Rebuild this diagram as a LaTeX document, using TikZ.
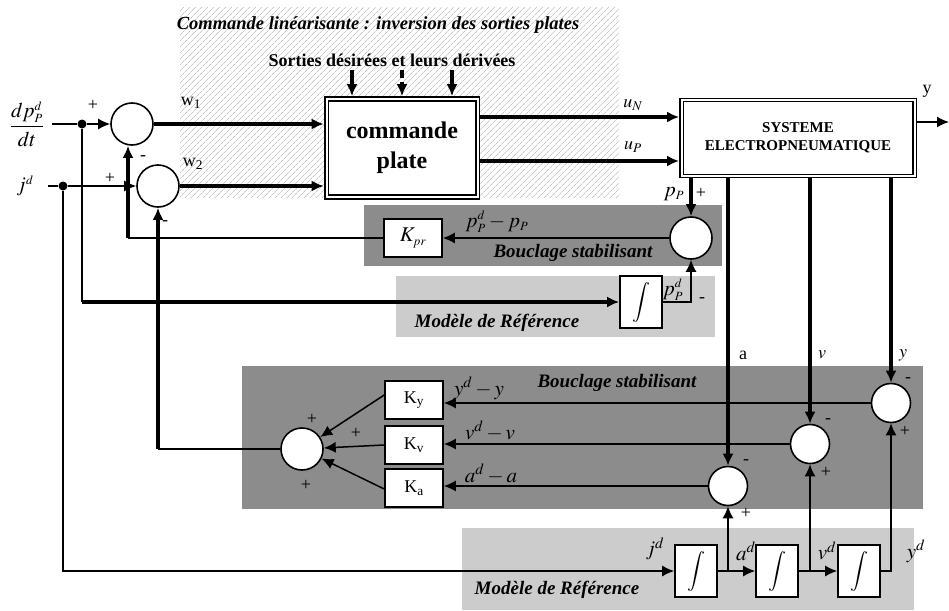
\documentclass[tikz,border=0pt]{standalone}
\usepackage{mathptmx}
\usepackage{fontspec}
\setmainfont{Liberation Serif}
\usetikzlibrary{arrows.meta,patterns.meta}

\begin{document}
\begin{tikzpicture}[x=1pt,y=-1pt,
  every node/.style={font=\fontsize{18}{20}\selectfont},
  fine/.style={line width=1.5pt},
  heavy/.style={line width=3.2pt},
  dsh/.style={dash pattern=on 8pt off 4pt},
  arr/.style={-{Latex[length=12pt,width=11pt]}},
  sum/.style={circle,draw,fill=white,line width=1.6pt,minimum size=42pt,inner sep=0pt},
  cmp/.style={sum,minimum size=39pt},
  gain/.style={rectangle,draw,fill=white,line width=1.6pt,minimum width=58pt,minimum height=38pt,inner sep=0pt},
  integ/.style={gain,minimum width=42pt,minimum height=52pt,font=\fontsize{20}{22}\selectfont},
  dot/.style={circle,fill=black,minimum size=9pt,inner sep=0pt},
  zonetitle/.style={font=\fontsize{19}{21}\selectfont\bfseries\itshape},
  sgn/.style={font=\fontsize{18}{18}\selectfont,inner sep=0pt},
  lbl/.style={font=\fontsize{21}{22}\selectfont,inner sep=0pt}]
\useasboundingbox (0,0) rectangle (949,610);
%zones
\fill[pattern={Lines[angle=45,distance=4pt,line width=0.8pt]},pattern color=black!22] (180,8) rectangle (619,197);
\fill[black!45] (364,205) rectangle (722,266);
\fill[black!20] (396,276) rectangle (715,337);
\fill[black!45] (242,366) rectangle (923,509);
\fill[black!20] (462,528) rectangle (914,610);
%zone texts
\node[zonetitle,font=\fontsize{18.5}{20}\selectfont\bfseries\itshape] (ttl) at (378,25) {Commande linéarisante : inversion des sorties plates};
\node[font=\fontsize{18}{20}\selectfont\bfseries] (sdd) at (392,60) {Sorties désirées et leurs dérivées};
\node[zonetitle] (bs1) at (573,253) {Bouclage stabilisant};
\node[zonetitle] (mr1) at (497,323) {Modèle de Référence};
\node[zonetitle] (bs2) at (617,383) {Bouclage stabilisant};
\node[zonetitle] (mr2) at (557,590) {Modèle de Référence};
%blocks
\node[draw,fill=white,line width=1.8pt,double,double distance=2pt,outer sep=2.8pt,minimum width=151pt,minimum height=98pt,align=center,font=\fontsize{24}{30}\selectfont\bfseries] (cp) at (402,148) {commande\\plate};
\node[draw,fill=white,line width=1.4pt,double,double distance=2pt,outer sep=2.4pt,minimum width=233pt,minimum height=76pt,align=center,font=\fontsize{15}{18}\selectfont\bfseries] (sys) at (798,138) {SYSTEME\\ELECTROPNEUMATIQUE};
\node[sum] (s1) at (132,124) {};
\node[sum] (s2) at (158,186) {};
\node[sum] (spp) at (691,238) {};
\node[sum] (sk) at (302,449) {};
\node[cmp] (sy) at (891,403) {};
\node[cmp] (sv) at (810,444) {};
\node[cmp] (sa) at (728,486) {};
\node[gain,font=\fontsize{21}{22}\selectfont] (kpr) at (413,238) {$K_{\scriptscriptstyle pr}$};
\node[gain] (ky) at (414,400) {K\textsubscript{y}};
\node[gain] (kv) at (414,445) {K\textsubscript{v}};
\node[gain] (ka) at (414,488) {K\textsubscript{a}};
\node[integ] (ipp) at (641,302) {$\displaystyle\int$};
\node[integ] (i1) at (696,571) {$\displaystyle\int$};
\node[integ] (i2) at (777,571) {$\displaystyle\int$};
\node[integ] (i3) at (859,571) {$\displaystyle\int$};
%inputs
\node[font=\fontsize{21}{24}\selectfont] (ldp) at (27,124) {$\displaystyle\frac{dp_{\scriptscriptstyle P}^{\scriptscriptstyle d}}{dt}$};
\node[lbl] (ljd) at (25,186) {$j^{\scriptscriptstyle d}$};
\coordinate (dpin) at (52,124);
\coordinate (jin) at (48,186);
\node[dot] (n1) at (82,124) {};
\node[dot] (n2) at (63,186) {};
\draw[fine] (dpin) -- (n1);
\draw[fine,arr] (n1) -- (s1);
\draw[fine] (jin) -- (n2);
\draw[fine,arr] (n2) -- (s2);
\draw[fine] (n1) -- (n1 |- ipp);
\draw[heavy,arr] (n1 |- ipp) -- (ipp);
\draw[fine,arr] (n2) |- (i1);
%flat control
\foreach \dx/\ls in {-50/solid,0/dsh,50/solid}
  \draw[heavy,arr,\ls] ([xshift=\dx pt]cp.north |- sdd.south) -- ([xshift=\dx pt]cp.north);
\draw[heavy,arr] (s1) -- (s1 -| cp.west);
\draw[heavy,arr] (s2) -- (s2 -| cp.west);
\path ([yshift=31pt]cp.east) coordinate (un) ([yshift=-13pt]cp.east) coordinate (up);
\draw[heavy,arr] (un) -- (un -| sys.west);
\draw[heavy,arr] (up) -- (up -| sys.west);
\coordinate (yout) at (949,122);
\draw[fine,arr] (sys.east |- yout) -- (yout);
%pressure loop
\draw[heavy,arr] (sys.south -| spp) -- (spp);
\draw[fine,arr] (spp.west) -- (spp.west -| kpr.east);
\coordinate (kc) at ([xshift=-4pt]s1.south |- kpr);
\draw[fine] (kpr) -- (kc);
\draw[heavy,arr] (kc) -- ([xshift=-4pt]s1.south);
\draw[fine,arr] (ipp) -| (spp);
%state loop
\draw[heavy,arr] (sys.south -| sa) -- (sa);
\draw[heavy,arr] (sys.south -| sv) -- (sv);
\draw[heavy,arr] (sys.south -| sy) -- (sy);
\draw[fine,arr] (sy.west) -- (sy.west -| ky.east);
\draw[fine,arr] (sv.west) -- (sv.west -| kv.east);
\draw[fine,arr] (sa.west) -- (sa.west -| ka.east);
\draw[fine,arr] ([yshift=5pt]ky.west) -- (sk);
\draw[fine,arr] (kv.west) -- (sk);
\draw[fine,arr] ([yshift=-1pt]ka.west) -- (sk);
\coordinate (skc) at (s2.south |- sk);
\draw[fine] (sk) -- (skc);
\draw[heavy,arr] (skc) -- (s2.south);
%reference chain
\draw[fine,arr] (i1) -- (i2);
\draw[fine,arr] (i2) -- (i3);
\draw[fine,arr] (i1.east -| sa) -- (sa);
\draw[fine,arr] (i2.east -| sv) -- (sv);
\draw[fine,arr] (i3.east) -| (sy);
%labels
\node (lw1) at (191,103) {w\textsubscript{1}};
\node (lw2) at (193,164) {w\textsubscript{2}};
\node (lun) at (633,105) {$u_N$};
\node (lup) at (633,147) {$u_P$};
\node (ly) at (927,91) {y};
\node[lbl] (lpp) at (674,194) {$p_{\scriptscriptstyle P}$};
\node[lbl] (lerr) at (497,222) {$p_{\scriptscriptstyle P}^{\scriptscriptstyle d}-p_{\scriptscriptstyle P}$};
\node[lbl] (lppd) at (673,290) {$p_{\scriptscriptstyle P}^{\scriptscriptstyle d}$};
\node (la) at (743,355) {a};
\node (lv) at (822,355) {$v$};
\node (lyy) at (903,355) {$y$};
\node[lbl] (ley) at (479,388) {$y^d-y$};
\node[lbl] (lev) at (490,431) {$v^d-v$};
\node[lbl] (lea) at (491,474) {$a^d-a$};
\node[lbl] (ljd2) at (655,549) {$j^d$};
\node[lbl] (lad) at (746,551) {$a^d$};
\node[lbl] (lvd) at (827,551) {$v^d$};
\node[lbl] (lyd) at (916,551) {$y^d$};
%signs
\node[sgn] at (93,105) {+};
\node[sgn] at (110,178) {+};
\node[sgn] at (143,158) {-};
\node[sgn] at (165,223) {-};
\node[sgn] at (701,193) {+};
\node[sgn] at (702,300) {-};
\node[sgn] at (312,419) {+};
\node[sgn] at (356,433) {+};
\node[sgn] at (306,485) {+};
\node[sgn] at (908,380) {-};
\node[sgn] at (905,431) {+};
\node[sgn] at (828,421) {-};
\node[sgn] at (826,472) {+};
\node[sgn] at (746,462) {-};
\node[sgn] at (746,513) {+};
\end{tikzpicture}
\end{document}
